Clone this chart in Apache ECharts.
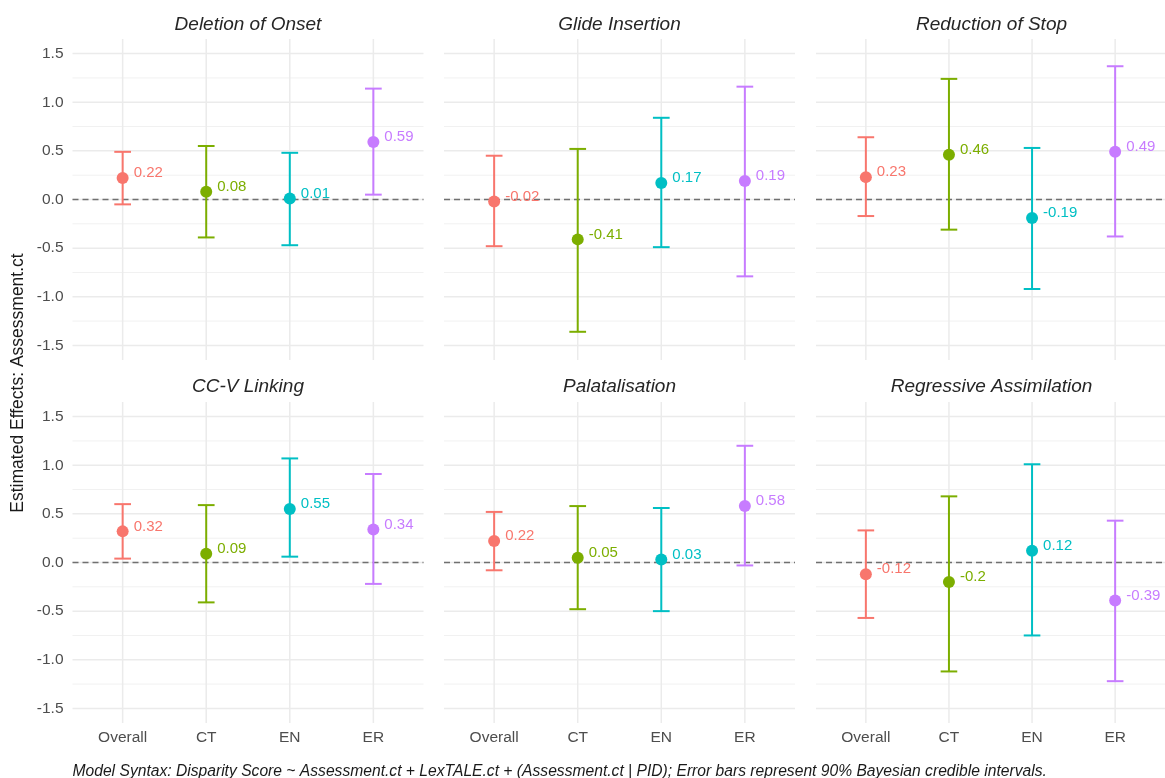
<!DOCTYPE html>
<html>
<head>
<meta charset="utf-8">
<title>Estimated Effects: Assessment.ct</title>
<script src="https://cdn.jsdelivr.net/npm/echarts@6/dist/echarts.min.js"></script>
<style>
  html, body { margin: 0; padding: 0; background: #ffffff; }
  #chart { width: 1165px; height: 778px; }
</style>
</head>
<body>
<div id="chart"></div>
<script>
// Facet names (row-major, 3 per row) and the groups shown in each facet
const panels = ['Deletion of Onset', 'Glide Insertion', 'Reduction of Stop',
                'CC-V Linking', 'Palatalisation', 'Regressive Assimilation'];
const categories = ['Overall', 'CT', 'EN', 'ER'];

// Posterior estimates per facet, one value per group
const estimates = [
  [0.22, 0.08, 0.01, 0.59],
  [-0.02, -0.41, 0.17, 0.19],
  [0.23, 0.46, -0.19, 0.49],
  [0.32, 0.09, 0.55, 0.34],
  [0.22, 0.05, 0.03, 0.58],
  [-0.12, -0.2, 0.12, -0.39]
];
// 90% credible interval bounds
const lower = [
  [-0.05, -0.39, -0.47, 0.05],
  [-0.48, -1.36, -0.49, -0.79],
  [-0.17, -0.31, -0.92, -0.38],
  [0.04, -0.41, 0.06, -0.22],
  [-0.08, -0.48, -0.50, -0.03],
  [-0.57, -1.12, -0.75, -1.22]
];
const upper = [
  [0.49, 0.55, 0.48, 1.14],
  [0.45, 0.52, 0.84, 1.16],
  [0.64, 1.24, 0.53, 1.37],
  [0.60, 0.59, 1.07, 0.91],
  [0.52, 0.58, 0.56, 1.20],
  [0.33, 0.68, 1.01, 0.43]
];

// Axis breaks
const yMajor = [-1.5, -1.0, -0.5, 0, 0.5, 1.0, 1.5];
const yMinor = [-1.25, -0.75, -0.25, 0.25, 0.75, 1.25];
const xBreaks = [0, 1, 2, 3];

const colors = ['#F8766D', '#7CAE00', '#00BFC4', '#C77CFF'];
const caption = 'Model Syntax: Disparity Score ~ Assessment.ct + LexTALE.ct + (Assessment.ct | PID); Error bars represent 90% Bayesian credible intervals.';
const yTitle = 'Estimated Effects: Assessment.ct';

// Layout of the facet panels
const FONT = '"Liberation Sans", Arial, Helvetica, sans-serif';
const colLeft = [72.5, 444, 816];
const rowTop = [39, 402];
const panelW = 351, panelH = 321;
const Y_MIN = -1.65, Y_MAX = 1.65;
const X_MIN = -0.6, X_MAX = 3.6;
const CAP_HALF = 0.1; // half width of error bar caps, in x units

function gridRender(params, api) {
  const cs = params.coordSys;
  const kids = [];
  yMinor.forEach(v => {
    const y = api.coord([0, v])[1];
    kids.push({ type: 'line', shape: { x1: cs.x, y1: y, x2: cs.x + cs.width, y2: y },
                style: { stroke: '#F1F1F1', lineWidth: 1 } });
  });
  yMajor.forEach(v => {
    const y = api.coord([0, v])[1];
    kids.push({ type: 'line', shape: { x1: cs.x, y1: y, x2: cs.x + cs.width, y2: y },
                style: { stroke: '#EBEBEB', lineWidth: 1.5 } });
  });
  xBreaks.forEach(v => {
    const x = api.coord([v, 0])[0];
    kids.push({ type: 'line', shape: { x1: x, y1: cs.y, x2: x, y2: cs.y + cs.height },
                style: { stroke: '#EBEBEB', lineWidth: 1.5 } });
  });
  // reference line at zero
  const y0 = api.coord([0, 0])[1];
  kids.push({ type: 'line', shape: { x1: cs.x, y1: y0, x2: cs.x + cs.width, y2: y0 },
              style: { stroke: '#707070', lineWidth: 1.3, lineDash: [6, 4] } });
  return { type: 'group', children: kids };
}

function errorBarRender(params, api) {
  const i = api.value(0);
  const lo = api.value(1), hi = api.value(2);
  const top = api.coord([i, hi]);
  const bot = api.coord([i, lo]);
  const xl = api.coord([i - CAP_HALF, hi])[0];
  const xr = api.coord([i + CAP_HALF, hi])[0];
  const st = { stroke: colors[i], lineWidth: 2 };
  return {
    type: 'group',
    children: [
      { type: 'line', shape: { x1: top[0], y1: top[1], x2: bot[0], y2: bot[1] }, style: st },
      { type: 'line', shape: { x1: xl, y1: top[1], x2: xr, y2: top[1] }, style: st },
      { type: 'line', shape: { x1: xl, y1: bot[1], x2: xr, y2: bot[1] }, style: st }
    ]
  };
}

const grid = [], xAxis = [], yAxis = [], series = [], graphic = [];

panels.forEach((name, p) => {
  const row = Math.floor(p / 3), col = p % 3;
  grid.push({ left: colLeft[col], top: rowTop[row], width: panelW, height: panelH, containLabel: false });

  xAxis.push({
    type: 'value', gridIndex: p, min: X_MIN, max: X_MAX,
    axisLine: { show: false }, axisTick: { show: false }, splitLine: { show: false },
    axisLabel: {
      show: row === 1, customValues: xBreaks, margin: 7,
      formatter: v => categories[Math.round(v)],
      color: '#4D4D4D', fontSize: 15.5, fontFamily: FONT
    }
  });
  yAxis.push({
    type: 'value', gridIndex: p, min: Y_MIN, max: Y_MAX,
    axisLine: { show: false }, axisTick: { show: false }, splitLine: { show: false },
    axisLabel: {
      show: col === 0, customValues: yMajor, margin: 9,
      formatter: v => v.toFixed(1),
      color: '#4D4D4D', fontSize: 15.5, fontFamily: FONT
    }
  });

  series.push({
    type: 'custom', xAxisIndex: p, yAxisIndex: p, silent: true, z: 1,
    renderItem: gridRender, data: [[0, 0]], clip: false
  });
  series.push({
    type: 'custom', xAxisIndex: p, yAxisIndex: p, silent: true, z: 3,
    renderItem: errorBarRender,
    data: categories.map((c, i) => [i, lower[p][i], upper[p][i]])
  });
  series.push({
    type: 'scatter', xAxisIndex: p, yAxisIndex: p, z: 4,
    symbol: 'circle', symbolSize: 12,
    data: categories.map((c, i) => ({
      value: [i, estimates[p][i]],
      itemStyle: { color: colors[i], opacity: 1 },
      label: { color: colors[i] }
    })),
    label: {
      show: true, position: 'right', distance: 5, offset: [0, -5],
      formatter: d => String(d.value[1]),
      fontSize: 15, fontFamily: FONT
    }
  });

  graphic.push({
    type: 'text', x: colLeft[col] + panelW / 2, y: row === 0 ? 24.5 : 387,
    style: {
      text: name, textAlign: 'center', textVerticalAlign: 'middle',
      font: 'italic 19px ' + FONT, fill: '#262626'
    }
  });
});

graphic.push({
  type: 'text', x: 18, y: 383, rotation: Math.PI / 2,
  style: {
    text: yTitle, textAlign: 'center', textVerticalAlign: 'middle',
    font: '17.5px ' + FONT, fill: '#1A1A1A'
  }
});
graphic.push({
  type: 'text', x: 72.5, y: 771.5,
  style: {
    text: caption, textAlign: 'left', textVerticalAlign: 'middle',
    font: 'italic 15.65px ' + FONT, fill: '#1A1A1A'
  }
});

const chart = echarts.init(document.getElementById('chart'), null, { renderer: 'canvas' });
chart.setOption({
  animation: false,
  backgroundColor: '#ffffff',
  grid, xAxis, yAxis, series, graphic
});
</script>
</body>
</html>
